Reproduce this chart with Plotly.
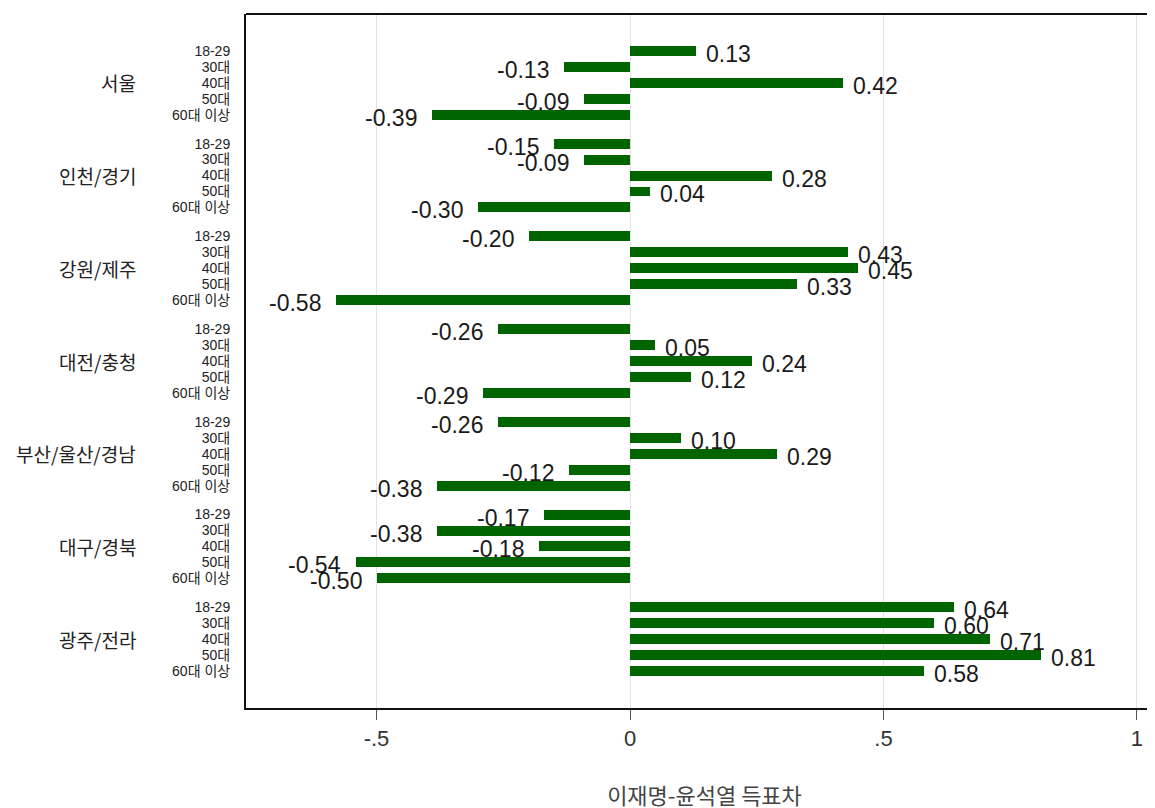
import plotly.graph_objects as go

regions = ["서울", "인천/경기", "강원/제주", "대전/충청", "부산/울산/경남", "대구/경북", "광주/전라"]
ages = ["18-29", "30대", "40대", "50대", "60대 이상"]
seoul = [0.13, -0.13, 0.42, -0.09, -0.39]
incheon_gyeonggi = [-0.15, -0.09, 0.28, 0.04, -0.30]
gangwon_jeju = [-0.20, 0.43, 0.45, 0.33, -0.58]
daejeon_chungcheong = [-0.26, 0.05, 0.24, 0.12, -0.29]
busan_ulsan_gyeongnam = [-0.26, 0.10, 0.29, -0.12, -0.38]
daegu_gyeongbuk = [-0.17, -0.38, -0.18, -0.54, -0.50]
gwangju_jeolla = [0.64, 0.60, 0.71, 0.81, 0.58]
x_tick_vals = [-0.5, 0, 0.5, 1]
x_tick_text = ["-.5", "0", ".5", "1"]
x_title = "이재명-윤석열 득표차"

series = [seoul, incheon_gyeonggi, gangwon_jeju, daejeon_chungcheong,
          busan_ulsan_gyeongnam, daegu_gyeongbuk, gwangju_jeolla]

GROUP_STRIDE = 5.8125
ypos, xvals, ylabels = [], [], []
for g, vals in enumerate(series):
    for i, v in enumerate(vals):
        ypos.append(g * GROUP_STRIDE + i)
        xvals.append(v)
        ylabels.append(ages[i])

FONT = "Liberation Sans, Arial, Noto Sans CJK KR, sans-serif"
KFONT = "Noto Sans CJK KR, " + FONT

fig = go.Figure()
fig.add_trace(go.Bar(
    x=xvals, y=ypos, orientation="h", width=0.625,
    marker=dict(color="#006400", line=dict(width=0)),
    hoverinfo="x",
))

annotations = []
for x, y in zip(xvals, ypos):
    annotations.append(dict(
        x=x, y=y, xref="x", yref="y", text=f"{x:.2f}",
        showarrow=False, xanchor="left" if x >= 0 else "right",
        xshift=8 if x >= 0 else -13, yshift=-3,
        font=dict(family=FONT, size=23, color="#1a1a1a"),
    ))
for g, name in enumerate(regions):
    annotations.append(dict(
        x=-0.118, y=g * GROUP_STRIDE + 2, xref="paper", yref="y",
        text=name, showarrow=False, xanchor="right",
        font=dict(family=KFONT, size=19, color="#222"),
    ))

last = (len(series) - 1) * GROUP_STRIDE + len(ages) - 1
fig.update_layout(
    width=1155, height=808,
    margin=dict(l=238, r=0, t=6, b=108),
    paper_bgcolor="white", plot_bgcolor="white",
    showlegend=False, bargap=0,
    annotations=annotations,
    font=dict(family=FONT),
    xaxis=dict(
        range=[-0.7574, 1.0513],
        tickvals=x_tick_vals, ticktext=x_tick_text,
        tickfont=dict(size=22, color="#333", family=FONT),
        showgrid=True, gridcolor="#e3e3e3", gridwidth=1,
        zeroline=True, zerolinecolor="#e3e3e3", zerolinewidth=1,
        showline=True, linecolor="#111", linewidth=2,
        ticks="outside", ticklen=10, tickcolor="#555", tickwidth=1,
        title=dict(text=x_title, font=dict(size=22, color="#444", family=KFONT),
                   standoff=38),
    ),
    yaxis=dict(
        range=[last + 2.3125, -2.3125],
        tickvals=ypos, ticktext=ylabels,
        tickfont=dict(size=14, color="#222", family=FONT),
        showgrid=False, zeroline=False,
        showline=True, linecolor="#111", linewidth=2,
        ticks="", ticklabelstandoff=11,
    ),
    shapes=[dict(type="line", xref="paper", yref="paper", x0=0, x1=1, y0=1, y1=1,
                 line=dict(color="#111", width=2))],
)

fig.write_html("out.html")
